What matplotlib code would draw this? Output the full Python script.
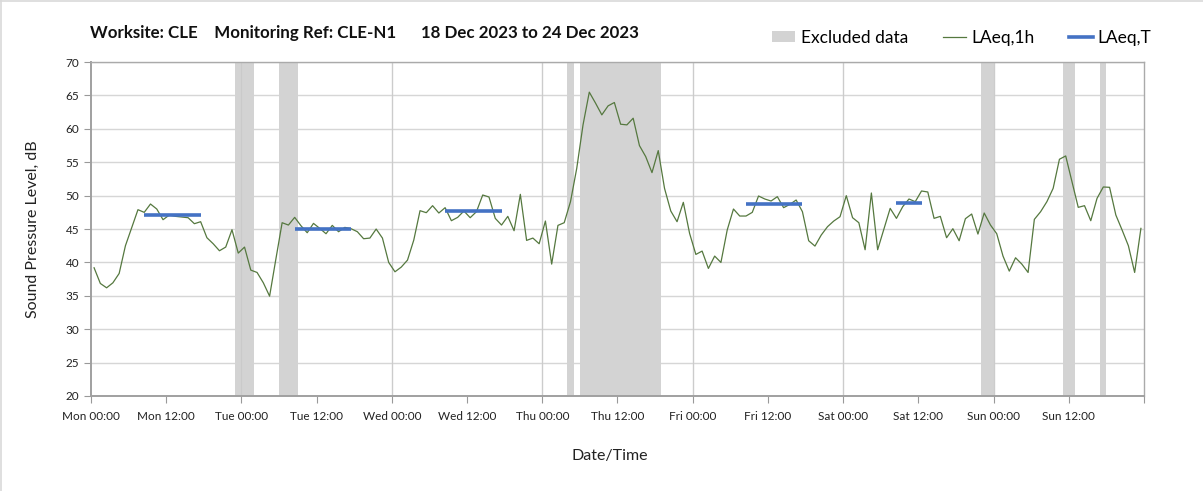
import numpy as np
import matplotlib
matplotlib.use("Agg")
from matplotlib import pyplot as plt
from matplotlib.patches import Patch
from matplotlib.lines import Line2D

# Stuendliche LAeq,1h Werte, Mo 18.12.2023 00:00 bis So 24.12.2023 23:00
laeq_1h = [
    39.2, 36.85, 36.2, 36.95, 38.35, 42.5, 45.2, 47.9, 47.5, 48.75,
    48.0, 46.4, 47.1, 46.9, 46.8, 46.7, 45.8, 46.1, 43.7, 42.8,
    41.75, 42.3, 44.9, 41.4, 42.3, 38.85, 38.5, 36.95, 34.95, 40.5,
    45.95, 45.6, 46.75, 45.5, 44.45, 45.85, 45.1, 44.3, 45.55, 44.6,
    45.25, 45.05, 44.6, 43.55, 43.65, 45.0, 43.65, 40.0,
    38.6, 39.3, 40.35, 43.35, 47.75, 47.45, 48.5, 47.4, 48.2, 46.25,
    46.75, 47.7, 46.7, 47.6, 50.1, 49.8, 46.6, 45.6, 46.9, 44.75,
    50.2, 43.3, 43.65, 42.8, 46.2, 39.75, 45.55, 45.95, 49.1, 54.1,
    60.6, 65.5, 63.85, 62.1, 63.45, 63.95, 60.7, 60.6, 61.6, 57.5,
    55.85, 53.45, 56.75, 51.1, 47.7, 46.1,
    49.0, 44.35, 41.2, 41.7, 39.1, 40.95, 40.0, 44.85, 48.0, 46.95,
    46.95, 47.5, 49.95, 49.5, 49.2, 49.85, 48.2, 48.7, 49.35, 47.6,
    43.25, 42.45, 44.1, 45.35, 46.2, 46.85, 50.0, 46.7, 45.95, 41.9,
    50.4, 41.9, 45.0, 48.1, 46.6, 48.35, 49.5, 49.1,
    50.7, 50.55, 46.6, 46.9, 43.7, 45.05, 43.25, 46.55, 47.25, 44.25,
    47.4, 45.6, 44.3, 40.95, 38.7, 40.7, 39.75, 38.5, 46.45, 47.6,
    49.1, 51.1, 55.45, 55.95, 52.1, 48.25, 48.5, 46.25, 49.6, 51.3,
    51.25, 47.1, 44.85, 42.5, 38.5, 45.1,
]

# Ausgeschlossene Zeitraeume (Stunden ab Mo 00:00)
excl_start = [23, 30, 76, 78, 142, 155, 161]
excl_end = [26, 33, 77, 91, 144, 157, 162]

# LAeq,T Tageswerte (Index erster/letzter Stundenwert, Pegel)
laeqT_first = [8, 32, 56, 104, 128]
laeqT_last = [17, 41, 65, 113, 132]
laeqT_val = [47.1, 45.05, 47.75, 48.75, 48.95]

tick_labels = ["Mon 00:00", "Mon 12:00", "Tue 00:00", "Tue 12:00", "Wed 00:00",
               "Wed 12:00", "Thu 00:00", "Thu 12:00", "Fri 00:00", "Fri 12:00",
               "Sat 00:00", "Sat 12:00", "Sun 00:00", "Sun 12:00", ""]


def main():
    plt.rcParams['font.family'] = ['Lato', 'DejaVu Sans']
    fig = plt.figure(figsize=(12.03, 4.91), dpi=100)
    ax = fig.add_axes([0.0756, 0.1935, 0.8754, 0.680])

    zeit = np.arange(len(laeq_1h)) + 0.5      # Mitte der Stunde

    grau = '#d3d3d3'
    for a, b in zip(excl_start, excl_end):
        ax.axvspan(a, b, color=grau, lw=0, zorder=1)

    ax.plot(zeit, laeq_1h, color='#55783f', lw=0.9, zorder=3)

    for i0, i1, v in zip(laeqT_first, laeqT_last, laeqT_val):
        ax.plot([zeit[i0], zeit[i1]], [v, v], color='#4472c4', lw=2.6,
                solid_capstyle='butt', zorder=4)

    # Achsen
    ax.set_xlim(0, 168)
    ax.set_ylim(20, 70)
    ax.set_yticks(np.arange(20, 71, 5))
    ax.set_xticks(np.arange(0, 169, 12))
    ax.set_xticklabels(tick_labels, fontsize=8.5, color='#222222')
    ax.tick_params(axis='y', labelsize=8.5, colors='#222222', length=5, width=0.8, color='#999999')
    ax.tick_params(axis='x', length=5, width=0.8, color='#999999', pad=6)
    ax.set_axisbelow(True)
    ax.grid(axis='y', color='#d6d6d6', lw=1.0, zorder=0)
    for t in np.arange(24, 168, 24):
        ax.axvline(t, color='#d9d9d9', lw=1.0, zorder=0)
        ax.axvline(t, color='#c4c4c4', lw=0.8, zorder=1.5, alpha=0.6)
    for s in ['top', 'right']:
        ax.spines[s].set_color('#aaaaaa')
        ax.spines[s].set_linewidth(1.0)
    for s in ['left', 'bottom']:
        ax.spines[s].set_color('#a0a0a0')
        ax.spines[s].set_linewidth(1.4)

    # Beschriftungen
    fig.text(0.0748, 0.933,
             "Worksite: CLE    Monitoring Ref: CLE-N1      18 Dec 2023 to 24 Dec 2023",
             fontsize=12.2, fontweight='bold', ha='left', va='center', color='#111111')
    fig.text(0.027, 0.534, "Sound Pressure Level, dB", rotation=90, fontsize=11.5,
             ha='center', va='center', color='#222222')
    fig.text(0.507, 0.071, "Date/Time", fontsize=11.5, ha='center', va='center',
             color='#222222')

    handles = [Patch(facecolor=grau, edgecolor='none'),
               Line2D([], [], color='#55783f', lw=0.9),
               Line2D([], [], color='#4472c4', lw=2.6)]
    fig.legend(handles, ["Excluded data", "LAeq,1h", "LAeq,T"], loc='center',
               bbox_to_anchor=(0.7995, 0.923), ncol=3, frameon=False, fontsize=12.5,
               handlelength=1.35, handletextpad=0.3, columnspacing=2.0, handleheight=0.6)

    # Rahmen links/oben
    fig.add_artist(Line2D([0.001, 0.001], [0, 1], color='#d9d9d9', lw=1.2))
    fig.add_artist(Line2D([0, 1], [0.998, 0.998], color='#d9d9d9', lw=1.2))

    fig.savefig("out.png", dpi=100)


if __name__ == "__main__":
    main()
